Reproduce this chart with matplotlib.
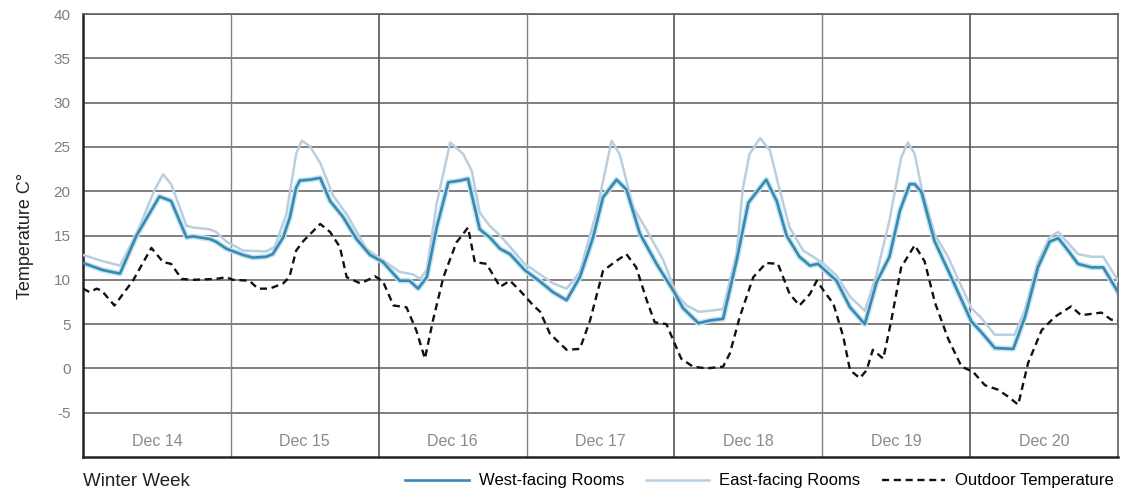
import matplotlib
matplotlib.use('Agg')
import matplotlib.pyplot as plt

plt.rcParams['font.family'] = ['Liberation Sans', 'DejaVu Sans']
plt.rcParams['axes.unicode_minus'] = False

# hours since start of week, temperature in deg C
west_hours = [0, 3.2, 6.0, 8.7, 12.4, 14.3, 16.8, 17.9, 20.6, 21.6, 23.3, 26.0, 27.6, 29.7,
              30.8, 32.5, 33.6, 34.6, 35.2, 36.8, 38.5, 40.1, 42.2, 44.4, 46.6, 48.7, 51.4,
              53.0, 54.4, 55.8, 57.4, 59.3, 61.2, 62.5, 64.4, 66.0, 67.7, 69.3, 71.7, 74.2,
              76.3, 78.5, 80.65, 82.8, 84.4, 86.6, 88.2, 90.4, 93.1, 95.8, 97.4, 99.9, 101.7,
              103.9, 106.1, 108.0, 110.9, 112.6, 114.2, 116.3, 118.0, 119.3, 120.4, 122.3,
              124.5, 126.9, 128.8, 130.9, 132.6, 134.2, 135.0, 136.1, 138.2, 140.4, 144.2,
              145.8, 148.0, 151.0, 152.9, 155.0, 156.9, 158.3, 159.9, 161.5, 163.7, 165.6, 168.0]
west_temp = [11.9, 11.1, 10.7, 15.0, 19.4, 18.9, 14.8, 14.9, 14.6, 14.3, 13.5, 12.8, 12.5, 12.6,
             12.9, 14.8, 17.1, 20.4, 21.2, 21.3, 21.5, 18.9, 17.1, 14.6, 12.8, 12.0, 9.9,
             9.9, 9.0, 10.3, 15.9, 21.0, 21.2, 21.4, 15.7, 14.8, 13.5, 12.9, 11.1, 9.8,
             8.6, 7.7, 10.3, 14.8, 19.3, 21.3, 20.2, 15.2, 11.8, 8.8, 6.8, 5.1, 5.4,
             5.6, 12.2, 18.7, 21.3, 18.9, 15.0, 12.6, 11.6, 11.8, 11.1, 9.9,
             6.9, 5.0, 9.7, 12.6, 17.8, 20.8, 20.8, 19.9, 14.4, 11.1, 5.3,
             4.1, 2.3, 2.2, 5.8, 11.4, 14.3, 14.7, 13.3, 11.8, 11.4, 11.4, 8.6]

east_hours = [0, 3.2, 6.0, 8.7, 11.6, 13.0, 14.3, 16.8, 17.9, 20.6, 21.6, 23.3, 26.0, 29.7,
              31.1, 33.0, 34.6, 35.5, 36.8, 38.5, 40.6, 42.8, 46.0, 48.7, 51.4, 53.6, 54.7,
              55.8, 57.4, 59.6, 61.7, 63.1, 64.4, 66.0, 67.7, 71.7, 76.3, 78.5, 80.65, 83.4,
              85.8, 87.1, 89.3, 91.5, 94.2, 96.3, 98.0, 99.9, 101.7, 103.9, 106.1, 107.1,
              108.2, 109.9, 111.5, 113.1, 114.7, 116.9, 118.5, 120.1, 122.3, 124.5, 126.9,
              128.8, 130.9, 132.8, 133.9, 135.0, 136.1, 138.2, 140.4, 144.2, 145.8, 148.0,
              151.2, 152.9, 155.0, 156.9, 158.3, 161.5, 163.7, 165.6, 168.0]
east_temp = [12.8, 12.1, 11.6, 15.2, 20.1, 21.9, 20.8, 16.1, 15.9, 15.7, 15.4, 14.3, 13.3, 13.2,
             13.7, 17.4, 24.2, 25.7, 25.1, 23.2, 19.5, 17.4, 13.5, 12.2, 10.9, 10.6, 10.1,
             11.1, 18.6, 25.5, 24.2, 22.3, 17.6, 16.1, 15.0, 11.8, 9.6, 9.0, 10.9, 17.8,
             25.7, 24.2, 18.2, 15.6, 12.2, 8.4, 7.1, 6.4, 6.5, 6.7, 13.0, 20.3,
             24.2, 26.0, 24.6, 20.1, 15.9, 13.3, 12.6, 11.9, 10.5, 8.1, 6.5,
             10.6, 16.7, 23.8, 25.5, 24.2, 20.4, 15.2, 12.6, 6.8, 5.7, 3.8,
             3.8, 6.6, 12.0, 14.8, 15.4, 12.9, 12.6, 12.6, 9.9]

outdoor_hours = [0, 1.1, 2.2, 3.0, 3.5, 5.1, 8.1, 11.1, 13.0, 14.3, 16.0, 17.9, 21.6, 23.3,
                 24.3, 27.0, 28.4, 30.3, 32.5, 33.5, 34.6, 35.8, 38.5, 40.1, 41.7, 42.8, 45.0,
                 46.0, 47.4, 48.7, 50.4, 52.5, 54.1, 55.5, 56.8, 58.5, 60.6, 62.5, 63.6, 65.5,
                 67.7, 69.3, 70.9, 73.1, 74.2, 75.8, 78.5, 80.65, 82.3, 84.4, 86.3, 88.2, 89.8,
                 91.5, 92.8, 94.7, 95.8, 97.1, 99.0, 101.2, 103.9, 105.0, 106.6, 108.8, 110.9,
                 112.8, 114.7, 116.3, 118.0, 119.1, 120.4, 121.8, 123.4, 124.5, 126.1, 127.2,
                 128.2, 129.9, 131.2, 132.8, 135.0, 136.6, 138.3, 140.4, 142.6, 144.5, 146.4,
                 148.5, 150.2, 151.8, 153.4, 155.6, 157.7, 160.4, 162.0, 165.3, 166.9, 168.0]
outdoor_temp = [9.0, 8.6, 9.0, 8.8, 8.4, 7.1, 9.9, 13.6, 12.0, 11.8, 10.1, 10.0, 10.1, 10.3,
                10.0, 9.9, 9.0, 9.0, 9.6, 10.3, 13.3, 14.4, 16.3, 15.4, 13.7, 10.3, 9.6,
                9.9, 10.4, 9.8, 7.1, 6.9, 4.3, 1.1, 5.4, 10.3, 14.2, 15.9, 12.0, 11.8,
                9.2, 9.9, 8.8, 7.1, 6.4, 3.9, 2.1, 2.2, 5.4, 11.0, 12.0, 12.9, 11.4,
                7.7, 5.2, 5.0, 3.2, 1.1, 0.2, 0.0, 0.2, 1.7, 5.8, 10.3, 11.9,
                11.8, 8.4, 7.1, 8.4, 9.9, 8.6, 7.3, 3.6, -0.2, -1.1, -0.2,
                2.1, 1.1, 5.4, 11.4, 13.9, 12.1, 7.4, 3.4, 0.2, -0.4, -1.9,
                -2.4, -3.2, -4.1, 0.6, 4.3, 5.8, 7.0, 6.0, 6.3, 5.5, 5.4]

days = ['Dec 14', 'Dec 15', 'Dec 16', 'Dec 17', 'Dec 18', 'Dec 19', 'Dec 20']
y_ticks = [-5, 0, 5, 10, 15, 20, 25, 30, 35, 40]

west_color = '#3a88b0'
west_glow = '#bfe5f4'
east_color = '#b9cfe0'
grid_color = '#5c5c5c'

fig = plt.figure(figsize=(11.21, 4.92), dpi=100)
ax = fig.add_axes([83 / 1121, 1 - 457 / 492, 1035 / 1121, 443 / 492])

for y in y_ticks:
    ax.axhline(y, color=grid_color, lw=1.1, zorder=1)
for i in range(1, len(days)):
    # every other day boundary is drawn a little heavier
    ax.axvline(24 * i, color='#555555' if i % 2 == 0 else '#808080',
               lw=1.2 if i % 2 == 0 else 1.0, zorder=1)

ax.plot(west_hours, west_temp, color=west_glow, lw=4.0, zorder=2, solid_joinstyle='round')
ax.plot(east_hours, east_temp, color=east_color, lw=1.8, zorder=3, label='East-facing Rooms')
ax.plot(west_hours, west_temp, color=west_color, lw=1.9, zorder=4, label='West-facing Rooms')
ax.plot(outdoor_hours, outdoor_temp, color='#111111', lw=1.7, ls=(0, (3, 2)), zorder=5,
        label='Outdoor Temperature')

for i, d in enumerate(days):
    ax.text(24 * i + 12, -8.25, d, ha='center', va='center', fontsize=11.5, color='#8a8a8a')

ax.set_xlim(0, 168)
ax.set_ylim(-10, 40)
ax.set_xticks([])
ax.set_yticks(y_ticks)
ax.tick_params(axis='y', length=0, pad=9, labelsize=11, labelcolor='#7f7f7f')
ax.set_ylabel('Temperature C°', fontsize=13, color='#222222', labelpad=14)

for side in ['left', 'bottom']:
    ax.spines[side].set_color('#222222')
    ax.spines[side].set_linewidth(1.8)
for side in ['top', 'right']:
    ax.spines[side].set_color(grid_color)
    ax.spines[side].set_linewidth(1.2)

fig.text(83 / 1121, 1 - 481 / 492, 'Winter Week', fontsize=13.5, color='#222222',
         ha='left', va='center')

handles, labels = ax.get_legend_handles_labels()
order = [1, 0, 2]
fig.legend([handles[i] for i in order], [labels[i] for i in order],
           loc='center right', bbox_to_anchor=(1114 / 1121, 1 - 481 / 492), ncol=3,
           frameon=False, fontsize=12, handlelength=3.8, handletextpad=0.6,
           columnspacing=1.3, borderaxespad=0, borderpad=0)

fig.savefig('out.png', dpi=100)
